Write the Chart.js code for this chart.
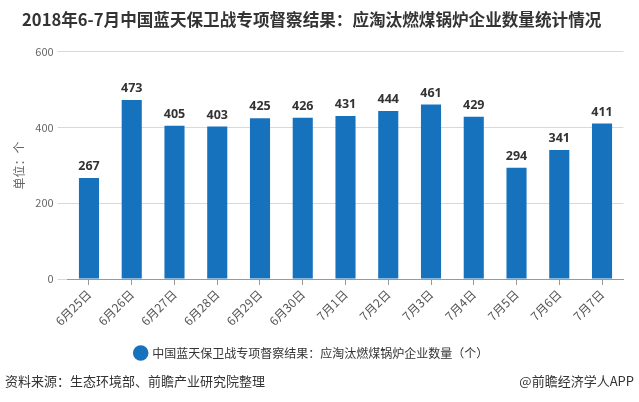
<!DOCTYPE html>
<html>
<head>
<meta charset="utf-8">
<script src="https://cdn.jsdelivr.net/npm/chart.js@4/dist/chart.umd.min.js"></script>
<style>
  html, body { margin: 0; padding: 0; background: #fff; }
  #wrap { position: relative; width: 639px; height: 402px; overflow: hidden; }
  #c { position: absolute; left: 0; top: 0; }
  .foot { position: absolute; top: 372px; font: 13px "Noto Sans CJK SC", sans-serif; color: #333; white-space: nowrap; line-height: 18px; }
</style>
</head>
<body>
<div id="wrap">
  <canvas id="c" width="639" height="402"></canvas>
  <div class="foot" style="left:5px;">资料来源：生态环境部、前瞻产业研究院整理</div>
  <div class="foot" style="right:5px;">@前瞻经济学人APP</div>
</div>
<script>
const titleText = '2018年6-7月中国蓝天保卫战专项督察结果：应淘汰燃煤锅炉企业数量统计情况';
const seriesName = '中国蓝天保卫战专项督察结果：应淘汰燃煤锅炉企业数量（个）';
const categories = ['6月25日','6月26日','6月27日','6月28日','6月29日','6月30日','7月1日','7月2日','7月3日','7月4日','7月5日','7月6日','7月7日'];
const values = [267, 473, 405, 403, 425, 426, 431, 444, 461, 429, 294, 341, 411];
const yTicks = [0, 200, 400, 600];
const yAxisTitle = '单位：个';

const barColor = '#1772BE';
const CJK = '"Noto Sans CJK SC", "Noto Sans", sans-serif';

const valueLabels = {
  id: 'valueLabels',
  afterDatasetsDraw(chart) {
    const ctx = chart.ctx;
    const meta = chart.getDatasetMeta(0);
    const data = chart.data.datasets[0].data;
    ctx.save();
    ctx.font = 'bold 12.5px "Open Sans", sans-serif';
    ctx.fillStyle = '#333';
    ctx.textAlign = 'center';
    ctx.textBaseline = 'bottom';
    meta.data.forEach((bar, i) => {
      ctx.fillText(String(data[i]), bar.x, bar.y - 5);
    });
    ctx.restore();
  }
};

new Chart(document.getElementById('c'), {
  type: 'bar',
  data: {
    labels: categories,
    datasets: [{
      label: seriesName,
      data: values,
      backgroundColor: barColor,
      borderWidth: 0,
      barPercentage: 0.47,
      categoryPercentage: 1.0
    }]
  },
  options: {
    responsive: false,
    animation: false,
    devicePixelRatio: 1,
    layout: { padding: { top: 0, left: 0, right: 15.6, bottom: 33 } },
    plugins: {
      title: {
        display: true,
        text: titleText,
        color: '#333',
        font: { family: CJK, size: 16.6, weight: 'bold' },
        padding: { top: 10, bottom: 22 }
      },
      legend: {
        display: true,
        position: 'bottom',
        labels: {
          usePointStyle: true,
          pointStyle: 'circle',
          boxWidth: 11,
          boxHeight: 11,
          color: '#333',
          font: { family: CJK, size: 12 },
          padding: 8
        }
      },
      tooltip: { enabled: false }
    },
    scales: {
      x: {
        grid: { display: true, offset: false, drawOnChartArea: false, drawTicks: true, tickLength: 6, color: '#999' },
        border: { display: true, color: '#999' },
        ticks: {
          color: '#555',
          font: { family: CJK, size: 12 },
          minRotation: 45,
          maxRotation: 45,
          padding: 2,
          autoSkip: false
        },
        afterFit(s) { s.height = 60; }
      },
      y: {
        min: 0,
        max: 600,
        afterBuildTicks(s) { s.ticks = yTicks.map(v => ({ value: v })); },
        grid: { color: '#d9d9d9', tickLength: 10, drawTicks: true },
        border: { display: false },
        ticks: {
          color: '#666',
          font: { family: CJK, size: 11 },
          padding: 4
        },
        title: {
          display: true,
          text: yAxisTitle,
          color: '#666',
          font: { family: CJK, size: 12 },
          padding: { top: 12, bottom: 0 }
        },
        afterFit(s) { s.width = 67.6; }
      }
    }
  },
  plugins: [valueLabels]
});
</script>
</body>
</html>
